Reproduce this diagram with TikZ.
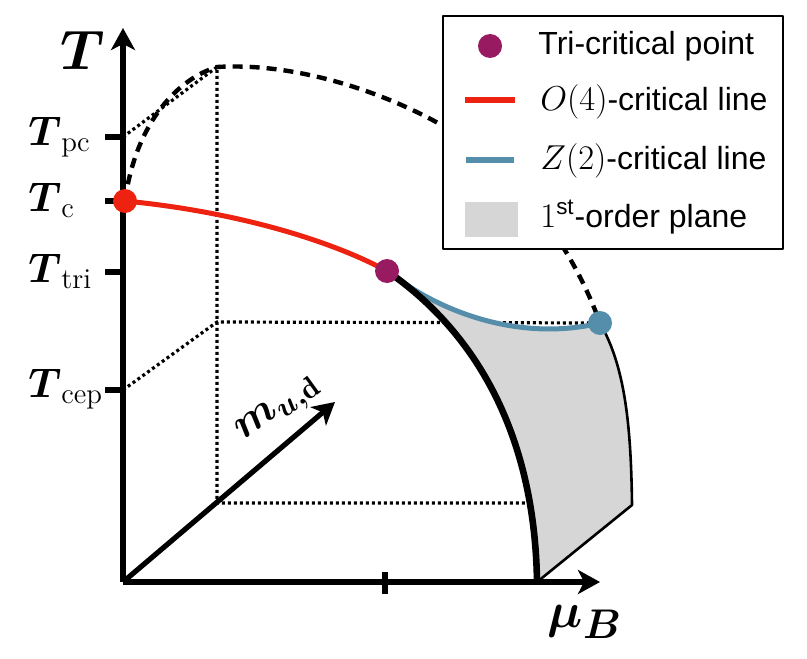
\documentclass[tikz,border=0pt]{standalone}
\usepackage{amsmath}
\usepackage{fontspec}
\newfontfamily\legendfont{Liberation Sans}
\usepackage{xcolor}
\usepackage{tikz}
\usetikzlibrary{arrows.meta, positioning}

\definecolor{o4red}{RGB}{238,34,16}
\definecolor{tripurple}{RGB}{152,26,96}
\definecolor{ztwoblue}{RGB}{84,142,170}
\definecolor{planegray}{RGB}{214,214,214}

\tikzset{
	axis/.style={line width=2.6pt},
	guide/.style={line width=1.6pt, dash pattern=on 1.5pt off 1.5pt},
	boundary/.style={line width=2.2pt, dash pattern=on 5pt off 3.5pt},
	critpt/.style={circle, inner sep=0pt, minimum size=12pt},
	ticklab/.style={anchor=base west, inner sep=0pt, font=\fontsize{20.74}{25}\selectfont},
	legtext/.style={anchor=west, inner sep=0pt, font=\legendfont\fontsize{16}{19}\selectfont},
}

\begin{document}
\begin{tikzpicture}[x=0.5pt, y=-0.5pt, >={Stealth[length=11pt, width=12pt, inset=3pt]},
			line join=round]
		\useasboundingbox (0,0) rectangle (807,658);

		% axes and box corners
		\coordinate (O) at (123,582);
		\coordinate (Ttip) at (123,28);
		\coordinate (mutip) at (600,582);
		\coordinate (mtip) at (335,402);
		\coordinate (tpc) at (123,137);
		\coordinate (tc) at (123,201);
		\coordinate (ttri) at (123,272);
		\coordinate (tcep) at (123,390);
		\coordinate (mutick) at (385,582);
		\coordinate (back) at (217,67);
		\coordinate (backcep) at (217,322);
		\coordinate (backbot) at (217,503);
		\coordinate (botcut) at (528,503);
		\coordinate (bend) at (445,127);
		\coordinate (Tc) at (125,201);
		\coordinate (tri) at (387,271);
		\coordinate (cep) at (600,323);
		\coordinate (mb) at (537,582);
		\coordinate (pb) at (632,505);

		\draw[guide] (tpc) -- (back) -- (backbot) -- (botcut);
		\draw[guide] (tcep) -- (backcep) -- (cep);

		\draw[boundary] (Tc) .. controls (136,120) and (180,78) .. (back)
			.. controls (300,62) and (390,95) .. (bend)
			.. controls (510,165) and (570,240) .. (cep);

		% first order plane
		\fill[planegray] (tri) .. controls (480,335) and (535,440) .. (mb) -- (pb)
			.. controls (631,420) and (624,365) .. (cep)
			.. controls (530,340) and (450,320) .. (tri);
		\draw[line width=1.3pt] (mb) -- (pb) .. controls (631,420) and (624,365) .. (cep);

		\draw[ztwoblue, line width=2.5pt] (tri) .. controls (450,320) and (530,340) .. (cep);
		\draw[line width=3.3pt] (tri) .. controls (480,335) and (535,440) .. (mb);
		\draw[o4red, line width=2.5pt] (Tc) .. controls (220,210) and (320,235) .. (tri);

		\draw[axis, ->] (O) -- (Ttip);
		\draw[axis, ->] (O) -- (mutip);
		\draw[axis, ->] (O) -- (mtip);
		\foreach \t in {tpc, tc, ttri, tcep}
			\draw[axis] (\t) -- ++(-18,0);
		\draw[axis] (mutick) ++(0,-10) -- ++(0,22);

		\node[critpt, fill=o4red] (crit) at (Tc) {};
		\node[critpt, fill=tripurple] (tricrit) at (tri) {};
		\node[critpt, fill=ztwoblue] (endpt) at (cep) {};

		\node[scale=1.12, font=\fontsize{24.88}{30}\selectfont] (Tlab) at (83,50) {$\boldsymbol{T}$};
		\node[ticklab] (pclab) at (28,145) {$\boldsymbol{T}_{\mathrm{pc}}$};
		\node[ticklab] (clab) at (28,211) {$\boldsymbol{T}_{\mathrm{c}}$};
		\node[ticklab] (trilab) at (28,282) {$\boldsymbol{T}_{\mathrm{tri}}$};
		\node[ticklab] (ceplab) at (28,397) {$\boldsymbol{T}_{\mathrm{cep}}$};
		\node[font=\fontsize{24.88}{28}\selectfont] (mulab) at (585,622) {$\boldsymbol{\mu_B}$};
		\node[rotate=36, inner sep=0pt, scale=1.05, font=\fontsize{20.74}{24}\selectfont] (mlab) at (279,410) {$\boldsymbol{m_{u,\mathrm{d}}}$};

		% legend
		\node[draw, fill=white, line width=0.6pt, inner sep=0pt,
			minimum width=170pt, minimum height=116.5pt] (legend) at (613,132.5) {};
		\node[critpt, fill=tripurple] (legtri) at (490,46) {};
		\node[legtext] (txttri) at (538,46) {Tri-critical point};
		\draw[o4red, line width=3pt] (465,100) -- (515,100);
		\node[legtext] (txto4) at (540,102) {$O(4)$-critical line};
		\draw[ztwoblue, line width=3pt] (466,160) -- (514,160);
		\node[legtext] (txtz2) at (540,161) {$Z(2)$-critical line};
		\fill[planegray] (465,202) rectangle (518,237);
		\node[legtext] (txtplane) at (540,217) {$1$\textsuperscript{st}-order plane};
	\end{tikzpicture}
\end{document}
